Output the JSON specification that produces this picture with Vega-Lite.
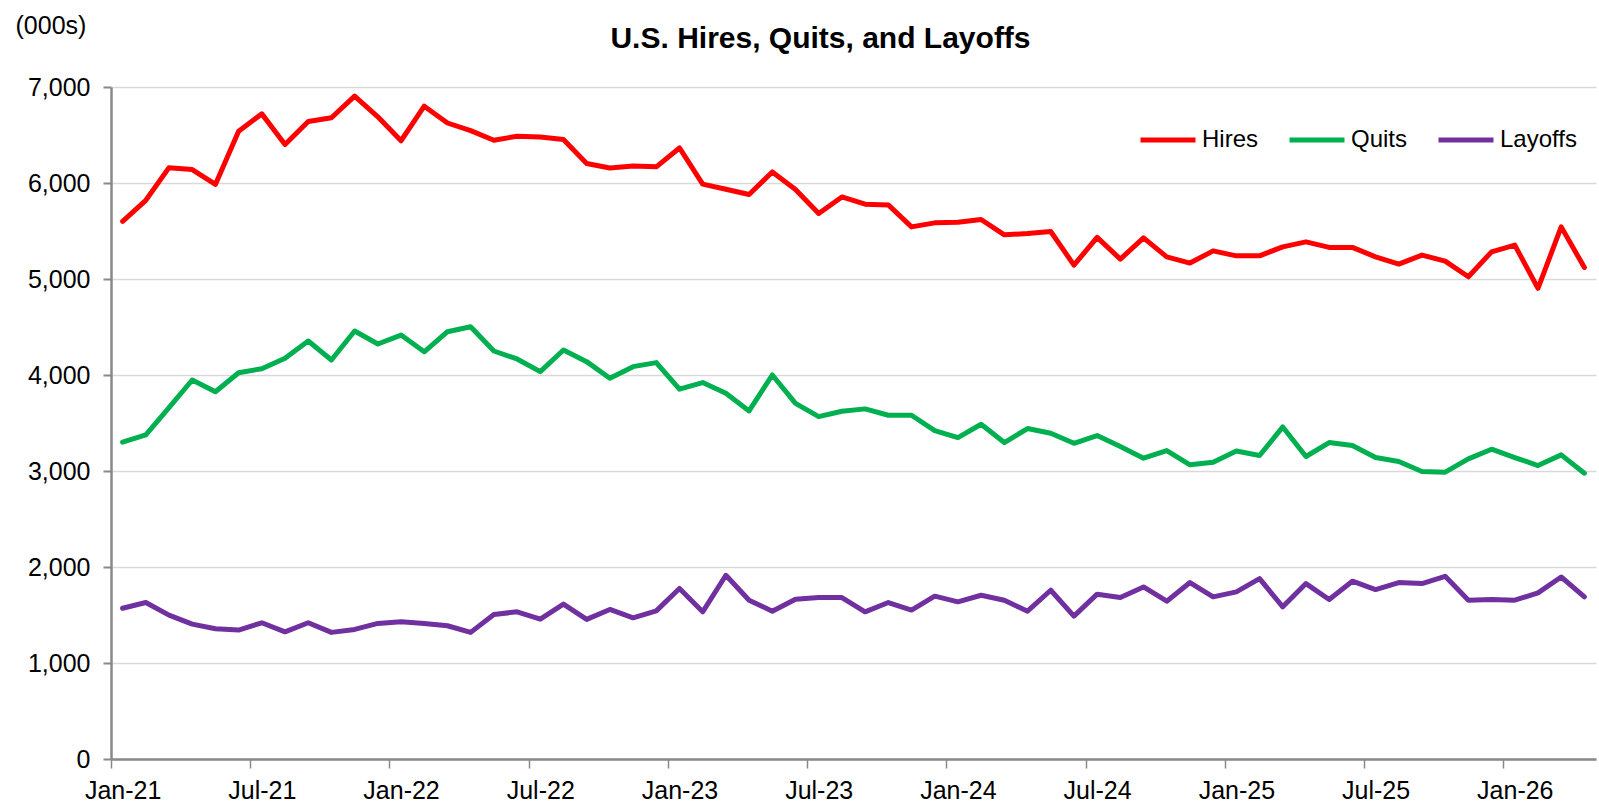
{
  "$schema": "https://vega.github.io/schema/vega-lite/v6.json",
  "autosize": {"type": "none"},
  "width": 1485,
  "height": 672,
  "padding": {"left": 111, "top": 87, "right": 3, "bottom": 49},
  "background": "white",
  "config": {
    "font": "Liberation Sans, Arial, sans-serif",
    "view": {"stroke": null}
  },
  "title": {
    "text": "U.S. Hires, Quits, and Layoffs",
    "font": "Liberation Sans, Arial, sans-serif",
    "fontSize": 30,
    "fontWeight": "bold",
    "color": "black",
    "anchor": "middle",
    "frame": "group",
    "dx": -33,
    "baseline": "alphabetic",
    "offset": -65
  },
  "data": {
    "values": [
      {"m": "Jan-21", "Hires": 5600, "Quits": 3300, "Layoffs": 1570},
      {"m": "Feb-21", "Hires": 5820, "Quits": 3376, "Layoffs": 1630},
      {"m": "Mar-21", "Hires": 6160, "Quits": 3660, "Layoffs": 1499},
      {"m": "Apr-21", "Hires": 6140, "Quits": 3948, "Layoffs": 1405},
      {"m": "May-21", "Hires": 5985, "Quits": 3826, "Layoffs": 1357},
      {"m": "Jun-21", "Hires": 6540, "Quits": 4024, "Layoffs": 1343},
      {"m": "Jul-21", "Hires": 6720, "Quits": 4066, "Layoffs": 1419},
      {"m": "Aug-21", "Hires": 6400, "Quits": 4174, "Layoffs": 1325},
      {"m": "Sep-21", "Hires": 6640, "Quits": 4354, "Layoffs": 1419},
      {"m": "Oct-21", "Hires": 6680, "Quits": 4156, "Layoffs": 1319},
      {"m": "Nov-21", "Hires": 6905, "Quits": 4458, "Layoffs": 1350},
      {"m": "Dec-21", "Hires": 6690, "Quits": 4323, "Layoffs": 1412},
      {"m": "Jan-22", "Hires": 6440, "Quits": 4416, "Layoffs": 1429},
      {"m": "Feb-22", "Hires": 6800, "Quits": 4242, "Layoffs": 1412},
      {"m": "Mar-22", "Hires": 6625, "Quits": 4451, "Layoffs": 1388},
      {"m": "Apr-22", "Hires": 6545, "Quits": 4503, "Layoffs": 1319},
      {"m": "May-22", "Hires": 6445, "Quits": 4250, "Layoffs": 1506},
      {"m": "Jun-22", "Hires": 6487, "Quits": 4167, "Layoffs": 1533},
      {"m": "Jul-22", "Hires": 6480, "Quits": 4035, "Layoffs": 1457},
      {"m": "Aug-22", "Hires": 6453, "Quits": 4260, "Layoffs": 1613},
      {"m": "Sep-22", "Hires": 6203, "Quits": 4139, "Layoffs": 1454},
      {"m": "Oct-22", "Hires": 6157, "Quits": 3966, "Layoffs": 1558},
      {"m": "Nov-22", "Hires": 6178, "Quits": 4087, "Layoffs": 1471},
      {"m": "Dec-22", "Hires": 6168, "Quits": 4129, "Layoffs": 1543},
      {"m": "Jan-23", "Hires": 6365, "Quits": 3852, "Layoffs": 1776},
      {"m": "Feb-23", "Hires": 5988, "Quits": 3921, "Layoffs": 1533},
      {"m": "Mar-23", "Hires": 5935, "Quits": 3810, "Layoffs": 1914},
      {"m": "Apr-23", "Hires": 5880, "Quits": 3626, "Layoffs": 1654},
      {"m": "May-23", "Hires": 6115, "Quits": 4000, "Layoffs": 1540},
      {"m": "Jun-23", "Hires": 5932, "Quits": 3705, "Layoffs": 1665},
      {"m": "Jul-23", "Hires": 5683, "Quits": 3566, "Layoffs": 1682},
      {"m": "Aug-23", "Hires": 5855, "Quits": 3622, "Layoffs": 1682},
      {"m": "Sep-23", "Hires": 5779, "Quits": 3647, "Layoffs": 1533},
      {"m": "Oct-23", "Hires": 5772, "Quits": 3581, "Layoffs": 1630},
      {"m": "Nov-23", "Hires": 5543, "Quits": 3581, "Layoffs": 1551},
      {"m": "Dec-23", "Hires": 5585, "Quits": 3421, "Layoffs": 1696},
      {"m": "Jan-24", "Hires": 5592, "Quits": 3348, "Layoffs": 1637},
      {"m": "Feb-24", "Hires": 5620, "Quits": 3487, "Layoffs": 1706},
      {"m": "Mar-24", "Hires": 5460, "Quits": 3296, "Layoffs": 1654},
      {"m": "Apr-24", "Hires": 5474, "Quits": 3442, "Layoffs": 1540},
      {"m": "May-24", "Hires": 5495, "Quits": 3393, "Layoffs": 1758},
      {"m": "Jun-24", "Hires": 5145, "Quits": 3289, "Layoffs": 1488},
      {"m": "Jul-24", "Hires": 5433, "Quits": 3369, "Layoffs": 1717},
      {"m": "Aug-24", "Hires": 5207, "Quits": 3254, "Layoffs": 1682},
      {"m": "Sep-24", "Hires": 5429, "Quits": 3133, "Layoffs": 1792},
      {"m": "Oct-24", "Hires": 5231, "Quits": 3213, "Layoffs": 1644},
      {"m": "Nov-24", "Hires": 5166, "Quits": 3064, "Layoffs": 1838},
      {"m": "Dec-24", "Hires": 5293, "Quits": 3092, "Layoffs": 1689},
      {"m": "Jan-25", "Hires": 5241, "Quits": 3209, "Layoffs": 1741},
      {"m": "Feb-25", "Hires": 5241, "Quits": 3161, "Layoffs": 1879},
      {"m": "Mar-25", "Hires": 5335, "Quits": 3459, "Layoffs": 1585},
      {"m": "Apr-25", "Hires": 5387, "Quits": 3151, "Layoffs": 1827},
      {"m": "May-25", "Hires": 5329, "Quits": 3296, "Layoffs": 1661},
      {"m": "Jun-25", "Hires": 5329, "Quits": 3265, "Layoffs": 1852},
      {"m": "Jul-25", "Hires": 5231, "Quits": 3140, "Layoffs": 1765},
      {"m": "Aug-25", "Hires": 5155, "Quits": 3099, "Layoffs": 1838},
      {"m": "Sep-25", "Hires": 5249, "Quits": 2995, "Layoffs": 1827},
      {"m": "Oct-25", "Hires": 5186, "Quits": 2988, "Layoffs": 1903},
      {"m": "Nov-25", "Hires": 5023, "Quits": 3126, "Layoffs": 1654},
      {"m": "Dec-25", "Hires": 5283, "Quits": 3227, "Layoffs": 1661},
      {"m": "Jan-26", "Hires": 5353, "Quits": 3140, "Layoffs": 1654},
      {"m": "Feb-26", "Hires": 4902, "Quits": 3057, "Layoffs": 1730},
      {"m": "Mar-26", "Hires": 5543, "Quits": 3168, "Layoffs": 1896},
      {"m": "Apr-26", "Hires": 5120, "Quits": 2977, "Layoffs": 1689}
    ]
  },
  "transform": [
    {"fold": ["Hires", "Quits", "Layoffs"], "as": ["series", "value"]}
  ],
  "mark": {"type": "line", "strokeWidth": 5, "strokeJoin": "round", "strokeCap": "round"},
  "encoding": {
    "x": {
      "field": "m",
      "type": "ordinal",
      "sort": null,
      "scale": {"type": "point", "padding": 0.5},
      "axis": {
        "title": null,
        "values": ["Jan-21", "Jul-21", "Jan-22", "Jul-22", "Jan-23", "Jul-23", "Jan-24", "Jul-24", "Jan-25", "Jul-25", "Jan-26"],
        "labelAngle": 0,
        "labelFontSize": 25,
        "labelColor": "black",
        "labelPadding": 10,
        "tickOffset": -11.6,
        "labelOffset": 11.6,
        "tickSize": 9,
        "tickWidth": 1.5,
        "tickColor": "#898989",
        "domainColor": "#898989",
        "domainWidth": 2.5,
        "grid": false
      }
    },
    "y": {
      "field": "value",
      "type": "quantitative",
      "scale": {"domain": [0, 7000], "nice": false},
      "axis": {
        "title": "(000s)",
        "titleAngle": 0,
        "titleAlign": "left",
        "titleBaseline": "middle",
        "titleX": -96,
        "titleY": -62,
        "titleFontSize": 25,
        "titleFontWeight": "normal",
        "titleColor": "black",
        "values": [0, 1000, 2000, 3000, 4000, 5000, 6000, 7000],
        "format": ",.0f",
        "labelFontSize": 25,
        "labelColor": "black",
        "labelPadding": 13,
        "tickSize": 8,
        "tickWidth": 2,
        "tickColor": "#898989",
        "domainColor": "#898989",
        "domainWidth": 2.5,
        "gridColor": "#d9d9d9",
        "gridWidth": 1.5
      }
    },
    "color": {
      "field": "series",
      "type": "nominal",
      "scale": {"domain": ["Hires", "Quits", "Layoffs"], "range": ["#FF0000", "#00B050", "#7030A0"]},
      "legend": {
        "title": null,
        "orient": "none",
        "direction": "horizontal",
        "legendX": 1027,
        "legendY": 23,
        "symbolType": "stroke",
        "symbolSize": 3025,
        "symbolStrokeWidth": 5,
        "labelFontSize": 24,
        "labelColor": "black",
        "labelOffset": 4,
        "gridAlign": "all",
        "columnPadding": 0,
        "padding": 0
      }
    },
    "order": {"value": null}
  }
}
